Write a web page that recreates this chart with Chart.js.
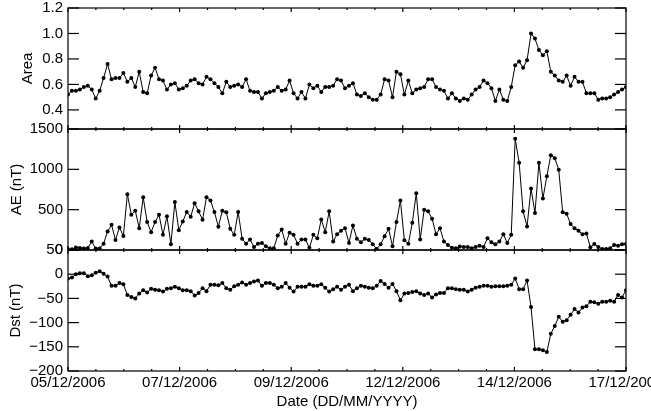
<!DOCTYPE html>
<html>
<head>
<meta charset="utf-8">
<script src="https://cdn.jsdelivr.net/npm/chart.js@4/dist/chart.umd.min.js"></script>
<style>
  html, body { margin: 0; padding: 0; background: #fff; overflow: hidden; }
  #wrap { width: 651px; height: 411px; }
</style>
</head>
<body>
<div id="wrap"><canvas id="myChart" width="651" height="411"></canvas></div>
<script>
// Data (2-hourly samples, 05/12/2006 -> 17/12/2006) ---------------------

const dateLabels = ['05/12/2006', '07/12/2006', '09/12/2006', '12/12/2006', '14/12/2006', '17/12/2006'];
const tickDays = [0, 2.4, 4.8, 7.2, 9.6, 12];

const areaTicks = [0.4, 0.6, 0.8, 1.0, 1.2];
const aeTicks = [0, 500, 1000, 1500];
const dstTicks = [-200, -150, -100, -50, 0, 50];

const areaVals = [
	0.52, 0.55, 0.55, 0.56, 0.58, 0.59, 0.56, 0.49, 0.55, 0.65, 0.76, 0.64, 0.65, 0.65, 0.69, 0.62, 0.65, 0.58, 0.70, 0.54,
	0.53, 0.67, 0.73, 0.64, 0.63, 0.56, 0.60, 0.61, 0.56, 0.57, 0.59, 0.63, 0.64, 0.61, 0.60, 0.66, 0.64, 0.61, 0.58,
	0.53, 0.62, 0.58, 0.59, 0.60, 0.58, 0.64, 0.55, 0.54, 0.54, 0.49, 0.53, 0.54, 0.55, 0.58, 0.55, 0.56, 0.63, 0.53, 0.49,
	0.54, 0.49, 0.60, 0.57, 0.59, 0.54, 0.58, 0.58, 0.59, 0.64, 0.63, 0.57, 0.59, 0.61, 0.52, 0.51, 0.53, 0.50, 0.48, 0.48,
	0.52, 0.64, 0.63, 0.50, 0.70, 0.68, 0.52, 0.63, 0.53, 0.56, 0.57, 0.58, 0.64, 0.64, 0.58, 0.56,
	0.55, 0.49, 0.53, 0.49, 0.47, 0.49, 0.48, 0.52, 0.56, 0.58, 0.63, 0.61, 0.57, 0.47, 0.56, 0.48, 0.47, 0.58, 0.75, 0.78,
	0.73, 0.79, 1.00, 0.96, 0.87, 0.83, 0.86, 0.70, 0.67, 0.63, 0.62, 0.67, 0.59, 0.66, 0.62, 0.62, 0.53, 0.53, 0.53, 0.48,
	0.49, 0.49, 0.50, 0.52, 0.54, 0.56, 0.58
];

const aeVals = [
	8, 10, 30, 25, 20, 25, 104, 20, 20, 79, 229, 312, 125, 279, 175, 692, 438, 488, 271, 654,
	346, 221, 346, 438, 188, 417, 71, 596, 246, 354, 471, 412, 579, 479, 375, 654, 613, 471, 288,
	488, 467, 263, 188, 471, 138, 79, 129, 38, 79, 88, 46, 21, 21, 179, 254, 79, 213, 188, 79,
	129, 129, 29, 188, 146, 379, 221, 479, 104, 196, 238, 271, 88, 304, 138, 96, 138, 125, 71, 13,
	71, 171, 263, 46, 346, 613, 121, 79, 338, 704, 129, 500, 479, 388, 196, 271,
	104, 63, 29, 21, 42, 38, 38, 21, 38, 54, 38, 146, 96, 71, 104, 196, 88, 188, 1379, 1083,
	479, 292, 763, 458, 1083, 638, 913, 1175, 1138, 996, 467, 450, 321, 271, 238, 196, 204, 33, 75, 38,
	13, 13, 21, 63, 54, 71, 75
];

const dstVals = [
	-9, -7, 0, 2, 2, -4, -2, 3, 6, 1, -5, -24, -24, -18, -21, -43, -47, -50, -40, -33,
	-38, -30, -32, -33, -36, -30, -29, -26, -29, -33, -33, -35, -44, -39, -29, -35, -22, -22, -23,
	-18, -29, -32, -25, -22, -17, -22, -18, -15, -13, -24, -18, -18, -22, -29, -26, -18, -28, -36, -26,
	-26, -26, -21, -24, -24, -21, -28, -36, -31, -26, -32, -26, -22, -35, -29, -24, -26, -28, -29, -24,
	-14, -20, -28, -20, -35, -54, -40, -39, -37, -35, -40, -43, -40, -48, -42, -39,
	-39, -29, -29, -31, -32, -32, -36, -32, -28, -26, -24, -24, -26, -25, -25, -25, -24, -22, -9, -31,
	-31, -13, -68, -155, -155, -157, -161, -123, -107, -88, -98, -95, -84, -72, -79, -69, -66, -57, -58, -61,
	-57, -57, -55, -57, -43, -48, -33
];

// Helpers --------------------------------------------

const spanDays = 12;
const minorStep = 0.6;
const xStep = spanDays / (areaVals.length - 1);
const toPoints = vals => vals.map((v, i) => ({ x: i * xStep, y: v }));

Chart.defaults.font.family = "'Liberation Sans', Arial, sans-serif";
Chart.defaults.font.size = 15;
Chart.defaults.color = '#000';

const lineStyle = {
	borderColor: '#000',
	backgroundColor: '#000',
	borderWidth: 1,
	pointRadius: 2,
	pointBorderWidth: 0,
	pointBackgroundColor: '#000',
	tension: 0,
	fill: false
};

const yAxis = (ticks, min, max, title, titlePad, fmt) => ({
	type: 'linear',
	position: 'left',
	stack: 'panels',
	stackWeight: 1,
	min: min,
	max: max,
	afterBuildTicks: s => { s.ticks = ticks.map(v => ({ value: v })); },
	afterFit: s => { s.width = 68; s.paddingTop = 0; s.paddingBottom = 0; },
	grid: { display: false, drawTicks: false },
	border: { display: false },
	ticks: { autoSkip: false, padding: 5, callback: fmt },
	title: { display: true, text: title, padding: { top: titlePad, bottom: 0 } }
});

// IDL-like frame with inward ticks
const idlFrame = {
	id: 'idlFrame',
	afterDraw(chart) {
		const ctx = chart.ctx;
		const { left, right } = chart.chartArea;
		const xs = chart.scales.x;
		const seg = (x1, y1, x2, y2) => { ctx.beginPath(); ctx.moveTo(x1, y1); ctx.lineTo(x2, y2); ctx.stroke(); };
		ctx.save();
		ctx.strokeStyle = '#000';
		ctx.lineWidth = 1.2;
		['yArea', 'yAE', 'yDst'].forEach(id => {
			const s = chart.scales[id];
			ctx.strokeRect(left, s.top, right - left, s.bottom - s.top);
			s.ticks.forEach(t => {
				const py = s.getPixelForValue(t.value);
				seg(left, py, left + 11, py);
				seg(right - 11, py, right, py);
			});
			const n = Math.round(spanDays / minorStep);
			for (let k = 0; k <= n; k++) {
				const px = xs.getPixelForValue(k * minorStep);
				const len = k % 4 === 0 ? 4 : 2;
				seg(px, s.top, px, s.top + len);
				seg(px, s.bottom, px, s.bottom - len);
			}
		});
		ctx.restore();
	}
};

// Chart --------------------------------------------

let ctx = document.getElementById('myChart').getContext('2d');
let chart = new Chart(ctx, {
	type: 'line',
	data: {
		datasets: [
			Object.assign({ label: 'Dst', data: toPoints(dstVals), yAxisID: 'yDst' }, lineStyle),
			Object.assign({ label: 'AE', data: toPoints(aeVals), yAxisID: 'yAE' }, lineStyle),
			Object.assign({ label: 'Area', data: toPoints(areaVals), yAxisID: 'yArea' }, lineStyle)
		]
	},
	options: {
		responsive: false,
		animation: false,
		plugins: { legend: { display: false }, tooltip: { enabled: false } },
		layout: { padding: { left: 0, right: 25, top: 8, bottom: 0 } },
		scales: {
			x: {
				type: 'linear',
				position: 'bottom',
				min: 0,
				max: spanDays,
				afterBuildTicks: s => { s.ticks = tickDays.map(v => ({ value: v })); },
				afterFit: s => { s.height = 40; s.paddingLeft = 0; s.paddingRight = 0; },
				grid: { display: false, drawTicks: false },
				border: { display: false },
				ticks: { autoSkip: false, maxRotation: 0, padding: 3, callback: (v, i) => dateLabels[i] },
				title: { display: true, text: 'Date (DD/MM/YYYY)', padding: 0 }
			},
			yDst: yAxis(dstTicks, -200, 50, 'Dst (nT)', 7, v => String(v).replace('-', '\u2212')),
			yAE: yAxis(aeTicks, 0, 1500, 'AE (nT)', 8, v => String(v)),
			yArea: yAxis(areaTicks, 0.25, 1.2, 'Area', 19, v => v.toFixed(1))
		}
	},
	plugins: [idlFrame]
});
</script>
</body>
</html>
